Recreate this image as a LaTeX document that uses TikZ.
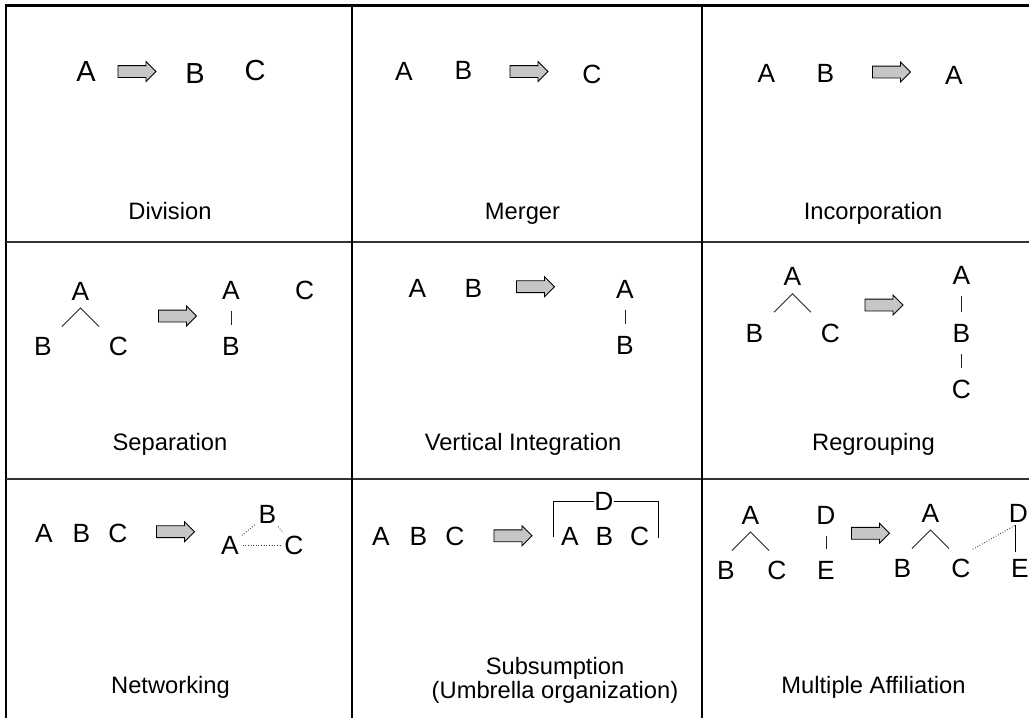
\documentclass[tikz,border=0pt]{standalone}
\usepackage{fontspec}
\setmainfont{Liberation Sans}
\usetikzlibrary{shapes.arrows}
\usetikzlibrary{calc}

\begin{document}
\begin{tikzpicture}[x=0.02cm, y=-0.02cm,
    every node/.style={inner sep=0pt, font=\fontsize{15}{16}\selectfont},
    changearrow/.style={single arrow, draw=black, fill=gray!45, line width=0.5pt, inner xsep=0pt, inner ysep=0.11cm, minimum height=0.76cm, minimum width=0cm, single arrow head extend=0.08cm},
    link/.style={line width=0.5pt, black!85, shorten <=0.23cm, shorten >=0.23cm},
    tie/.style={densely dotted, line width=0.5pt, black!75},
    cellname/.style={anchor=base, font=\fontsize{13.5}{13.8}\selectfont}]

        \useasboundingbox (0,0) rectangle (1029,718);

        % frame and grid
        \draw[line width=1.2pt] (1029,5.5) -- (6,5.5) -- (6,718);
        \foreach \y in {242,479} {
          \draw[line width=0.7pt, black!80] (6,\y) -- (1029,\y);
        }
        \foreach \x in {352,702} {
          \draw[line width=0.6pt] (\x,5.5) -- (\x,718);
        }

        % Division
        \node[font=\fontsize{16.5}{17}\selectfont] (dA) at (86,71.5) {A};
        \node[changearrow] (dArr) at (134,71.5) {};
        \node[font=\fontsize{16.5}{17}\selectfont] (dB) at (195,73.5) {B};
        \node[font=\fontsize{16.5}{17}\selectfont] (dC) at (255,71) {C};
        \node[cellname] (dName) at (170,219) {Division};

        % Merger
        \node (mgA) at (404,71) {A};
        \node (mgB) at (463.5,70.5) {B};
        \node[changearrow] (mgArr) at (526,71.5) {};
        \node (mgC) at (592,74) {C};
        \node[cellname] (mgName) at (522.5,219) {Merger};

        % Incorporation
        \node (inA) at (766.5,73) {A};
        \node (inB) at (825.5,73) {B};
        \node[changearrow] (inArr) at (888.5,72) {};
        \node (inA2) at (954,75) {A};
        \node[cellname] (inName) at (873,219) {Incorporation};

        % Separation
        \node (seA) at (80.5,291) {A};
        \node (seB) at (43,346.5) {B};
        \node (seC) at (118.5,346.5) {C};
        \node[changearrow] (seArr) at (174.5,316) {};
        \node (seA2) at (231,290.5) {A};
        \node (seB2) at (231,346) {B};
        \node (seC2) at (304.7,290) {C};
        \draw[link] (seA2) -- (seB2);
        \node[cellname] (seName) at (170,450.7) {Separation};

        % Vertical Integration
        \node (viA) at (417.5,288) {A};
        \node (viB) at (473.5,288) {B};
        \node[changearrow] (viArr) at (532.5,286.7) {};
        \node (viA2) at (625,289.5) {A};
        \node (viB2) at (625,345) {B};
        \draw[link] (viA2) -- (viB2);
        \node[cellname] (viName) at (523,450.7) {Vertical Integration};

        % Regrouping
        \node (rgA) at (792.5,276.7) {A};
        \node (rgB) at (754.5,333) {B};
        \node (rgC) at (830.5,333) {C};
        \node[changearrow] (rgArr) at (881,305) {};
        \node (rgA2) at (961.5,275) {A};
        \node (rgB2) at (961.5,333) {B};
        \node (rgC2) at (961.5,389) {C};
        \draw[link] (rgA2) -- (rgB2);
        \draw[link] (rgB2) -- (rgC2);
        \node[cellname] (rgName) at (873.5,450.7) {Regrouping};

        % Networking
        \node (nwA) at (44,533) {A};
        \node (nwB) at (81.5,533) {B};
        \node (nwC) at (118,533) {C};
        \node[changearrow] (nwArr) at (172.5,531.7) {};
        \node (nwB2) at (267.5,514.5) {B};
        \node (nwA2) at (230,545) {A};
        \node (nwC2) at (294,545) {C};
        \draw[tie, shorten <=2pt, shorten >=2pt] (nwA2) -- (nwB2);
        \draw[tie, shorten <=2pt, shorten >=2pt] (nwB2) -- (nwC2);
        \draw[tie, shorten <=2pt, shorten >=2pt] (nwA2) -- (nwC2);
        \node[cellname] (nwName) at (170.5,693.3) {Networking};

        % Subsumption
        \node (suA) at (380.8,536.7) {A};
        \node (suB) at (418.5,536.7) {B};
        \node (suC) at (455,536.7) {C};
        \node[changearrow] (suArr) at (510,535.8) {};
        \node (suD) at (604,501.7) {D};
        \node (suA2) at (570,536.7) {A};
        \node (suB2) at (604.5,536.7) {B};
        \node (suC2) at (639.7,536.7) {C};
        \coordinate (suLeft) at (553.3,537);
        \coordinate (suRight) at (658.3,538);
        \draw[line width=0.5pt] (suD.west) -| (suLeft);
        \draw[line width=0.5pt] (suD.east) -| (suRight);
        \node[align=center, font=\fontsize{13.5}{13.8}\selectfont] (suName) at (555,680) {Subsumption\\(Umbrella organization)};

        % Multiple Affiliation
        \node (maA) at (750.5,515) {A};
        \node (maB) at (726,570) {B};
        \node (maC) at (777,570) {C};
        \node (maD) at (826,515) {D};
        \node (maE) at (826,570) {E};
        \draw[link] (maD) -- (maE);
        \node[changearrow] (maArr) at (867.5,533.3) {};
        \node (maA2) at (930.5,513) {A};
        \node (maB2) at (902.5,568) {B};
        \node (maC2) at (961,568) {C};
        \node (maD2) at (1018.5,513) {D};
        \node (maE2) at (1020,568) {E};
        \coordinate (maTop) at (1015.7,525);
        \coordinate (maEnd) at (1015.7,551.7);
        \draw[line width=0.5pt] (maTop) -- (maEnd);
        \draw[tie] ($(maC2)+(11.7,-18.7)$) -- (maTop);
        \node[cellname] (maName) at (873.5,693.3) {Multiple Affiliation};

        % branches under the tree tops
        \foreach \t in {seA,rgA,maA,maA2} {
          \draw[line width=0.5pt, black!85] ($(\t)+(-18.5,35.5)$) -- ($(\t)+(0,17)$) -- ($(\t)+(18.5,35.5)$);
        }

\end{tikzpicture}
\end{document}
